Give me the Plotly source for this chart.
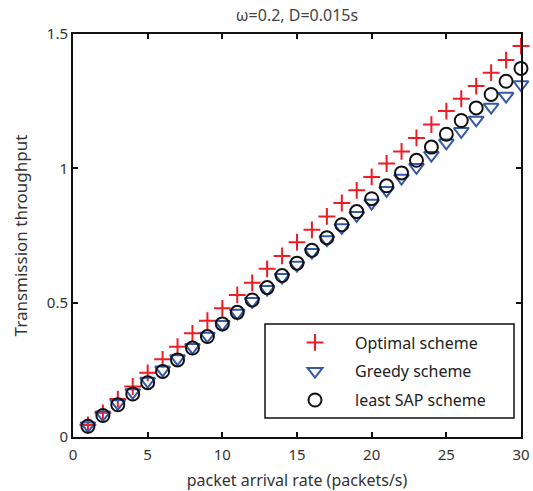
import plotly.graph_objects as go

rate = list(range(1, 31))
optimal = [0.045, 0.090, 0.141, 0.188, 0.239, 0.289, 0.336, 0.386, 0.433, 0.479,
           0.529, 0.574, 0.626, 0.674, 0.725, 0.771, 0.821, 0.871, 0.918, 0.968,
           1.018, 1.063, 1.113, 1.163, 1.213, 1.259, 1.306, 1.356, 1.403, 1.455]
greedy = [0.042, 0.083, 0.125, 0.166, 0.208, 0.250, 0.292, 0.334, 0.376, 0.420,
          0.462, 0.505, 0.550, 0.595, 0.640, 0.688, 0.735, 0.780, 0.825, 0.871,
          0.918, 0.964, 1.004, 1.049, 1.095, 1.138, 1.180, 1.228, 1.269, 1.312]
least_sap = [0.040, 0.080, 0.120, 0.160, 0.202, 0.244, 0.287, 0.331, 0.374, 0.421,
             0.464, 0.510, 0.556, 0.601, 0.647, 0.695, 0.742, 0.790, 0.839, 0.887,
             0.935, 0.983, 1.030, 1.079, 1.127, 1.178, 1.225, 1.275, 1.324, 1.372]
names = ["Optimal scheme", "Greedy scheme", "least SAP scheme"]
x_ticks = [0, 5, 10, 15, 20, 25, 30]
y_ticks = [0, 0.5, 1, 1.5]
y_tick_text = ["0", "0.5", "1", "1.5"]
title_text = "ω=0.2, D=0.015s"

FONT = "Noto Sans"
RED = "#ee1c25"
BLUE = "#3558a8"

fig = go.Figure()
fig.add_trace(go.Scatter(x=rate, y=optimal, mode="markers", name=names[0],
                         legendgroup="a", cliponaxis=False,
                         marker=dict(symbol="cross-thin-open", size=12, color=RED,
                                     line=dict(color=RED, width=2))))
fig.add_trace(go.Scatter(x=rate, y=greedy, mode="markers", name=names[1],
                         legendgroup="b", cliponaxis=False,
                         marker=dict(symbol="triangle-down-open", size=13, color=BLUE,
                                     line=dict(color=BLUE, width=2))))
fig.add_trace(go.Scatter(x=rate, y=least_sap, mode="markers", name=names[2],
                         legendgroup="c", cliponaxis=False,
                         marker=dict(symbol="circle-open", size=13, color="#111111",
                                     line=dict(color="#111111", width=2))))

axis_common = dict(showline=True, linecolor="#111111", linewidth=2, mirror="ticks",
                   ticks="inside", ticklen=5, tickwidth=1.5, tickcolor="#111111",
                   showgrid=False, zeroline=False, automargin=False,
                   tickfont=dict(family=FONT, size=15, color="#333333"))

fig.update_xaxes(range=[0, 30], tickvals=x_ticks, ticklabelstandoff=3, **axis_common,
                 title=dict(text="packet arrival rate (packets/s)", standoff=12,
                            font=dict(family=FONT, size=16, color="#333333")))
fig.update_yaxes(range=[0, 1.5], tickvals=y_ticks, ticktext=y_tick_text, **axis_common,
                 title=dict(text="Transmission throughput", standoff=15,
                            font=dict(family=FONT, size=17, color="#333333")))

fig.add_shape(type="rect", xref="paper", yref="paper",
              x0=(265 - 73) / 448, x1=(514 - 73) / 448,
              y0=(437 - 418) / 403, y1=(437 - 324) / 403,
              line=dict(color="#111111", width=1.5), fillcolor="white", layer="below")

fig.update_layout(
    width=533, height=491,
    margin=dict(l=73, r=12, t=34, b=54),
    paper_bgcolor="white", plot_bgcolor="white",
    title=dict(text=title_text, xref="paper", x=0.5, xanchor="center",
               y=0.968, yanchor="middle",
               font=dict(family=FONT, size=16, color="#444444")),
    legend=dict(x=(275 - 73) / 448, y=(437 - 325.5) / 403, xanchor="left", yanchor="top",
                bgcolor="rgba(0,0,0,0)", borderwidth=0, itemwidth=70,
                tracegroupgap=5,
                font=dict(family=FONT, size=16, color="#222222")),
)

fig.write_html("out.html", config={"displayModeBar": False},
               post_script="document.body.style.margin='0';")
